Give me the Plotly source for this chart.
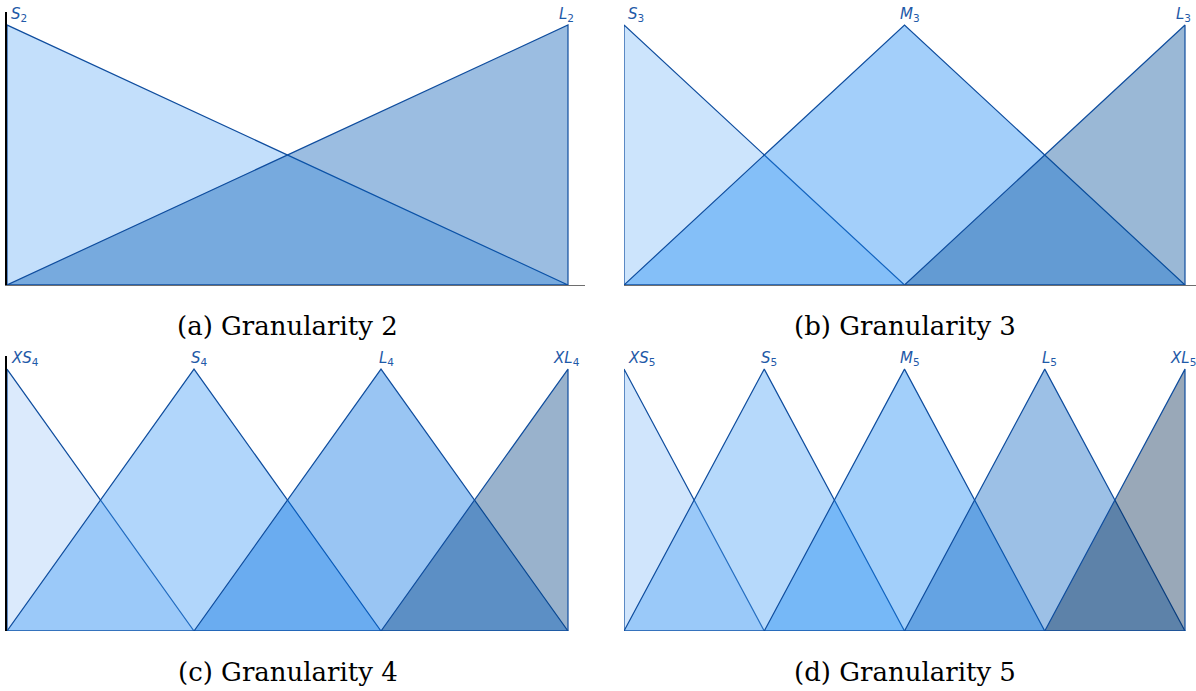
import plotly.graph_objects as go

# Linguistic term sets: one peak per term on the normalised universe [0, 1]
labels_g2 = ["S", "L"]
peaks_g2 = [0.0, 1.0]
colors_g2 = ["rgba(105,175,245,0.4)", "rgba(5,90,180,0.4)"]

labels_g3 = ["S", "M", "L"]
peaks_g3 = [0.0, 0.5, 1.0]
colors_g3 = ["rgba(128,188,248,0.4)", "rgba(25,135,243,0.4)", "rgba(3,78,153,0.4)"]

labels_g4 = ["XS", "S", "L", "XL"]
peaks_g4 = [0.0, 1 / 3, 2 / 3, 1.0]
colors_g4 = ["rgba(165,203,248,0.4)", "rgba(60,153,245,0.4)",
             "rgba(0,110,225,0.4)", "rgba(0,63,128,0.4)"]

labels_g5 = ["XS", "S", "M", "L", "XL"]
peaks_g5 = [0.0, 0.25, 0.5, 0.75, 1.0]
colors_g5 = ["rgba(138,190,248,0.4)", "rgba(73,160,245,0.4)", "rgba(23,135,243,0.4)",
             "rgba(8,98,193,0.4)", "rgba(0,38,78,0.4)"]

captions = ["(a) Granularity 2", "(b) Granularity 3",
            "(c) Granularity 4", "(d) Granularity 5"]

LINE = "#0f4d9e"
TEXT = "#1f5aa8"

panels = [
    (labels_g2, peaks_g2, colors_g2, 2),
    (labels_g3, peaks_g3, colors_g3, 3),
    (labels_g4, peaks_g4, colors_g4, 4),
    (labels_g5, peaks_g5, colors_g5, 5),
]

W, H = 1196, 691
# panel pixel boxes: (left, right, top, bottom)
boxes = [(7, 585, 12, 285), (624, 1196, 12, 285),
         (7, 585, 356, 631), (624, 1196, 356, 631)]
px_per_unit = 561.0

fig = go.Figure()
layout = dict(width=W, height=H, margin=dict(l=0, r=0, t=0, b=0),
              paper_bgcolor="white", plot_bgcolor="white", showlegend=False)
annotations = []

for k, ((labels, peaks, colors, g), box) in enumerate(zip(panels, boxes)):
    idx = "" if k == 0 else str(k + 1)
    xa, ya = "x" + idx, "y" + idx
    left, right, top, bottom = box
    step = peaks[1] - peaks[0]
    for i, (lab, p, col) in enumerate(zip(labels, peaks, colors)):
        lo = max(p - step, 0.0)
        hi = min(p + step, 1.0)
        xs = [lo, p, hi, lo]
        ys = [0, 1, 0, 0]
        fig.add_trace(go.Scatter(x=xs, y=ys, mode="lines", fill="toself",
                                 fillcolor=col, line=dict(color=LINE, width=1.2),
                                 xaxis=xa, yaxis=ya, hoverinfo="skip"))
        if i == 0:
            anchor, shift = "left", 2
        elif i == len(labels) - 1:
            anchor, shift = "center", -2
        else:
            anchor, shift = "center", 5
        annotations.append(dict(
            x=p, y=1.0, xref=xa, yref=ya, xanchor=anchor, yanchor="bottom",
            xshift=shift, yshift=-1, showarrow=False,
            text=f"<i>{lab}</i><sub>{g}</sub>",
            font=dict(family="DejaVu Sans", size=15, color=TEXT)))
    xr = (right - left) / px_per_unit
    layout["xaxis" + idx] = dict(
        domain=[left / W, right / W], range=[0, xr], showgrid=False,
        zeroline=False, showticklabels=False, ticks="", showline=True,
        linecolor="#6e6e6e", linewidth=1.2, fixedrange=True)
    layout["yaxis" + idx] = dict(
        domain=[(H - bottom) / H, (H - top) / H], range=[0, 1.05],
        showgrid=False, zeroline=False, showticklabels=False, ticks="",
        showline=True, linecolor="black", linewidth=1.5, fixedrange=True)
    cx = (left + left + px_per_unit) / 2 / W
    cy = (H - (bottom + 41)) / H
    annotations.append(dict(
        x=cx, y=cy, xref="paper", yref="paper", xanchor="center",
        yanchor="middle", showarrow=False, text=captions[k],
        font=dict(family="DejaVu Serif", size=26, color="black")))

layout["annotations"] = annotations
fig.update_layout(**layout)
fig.write_html("out.html")
